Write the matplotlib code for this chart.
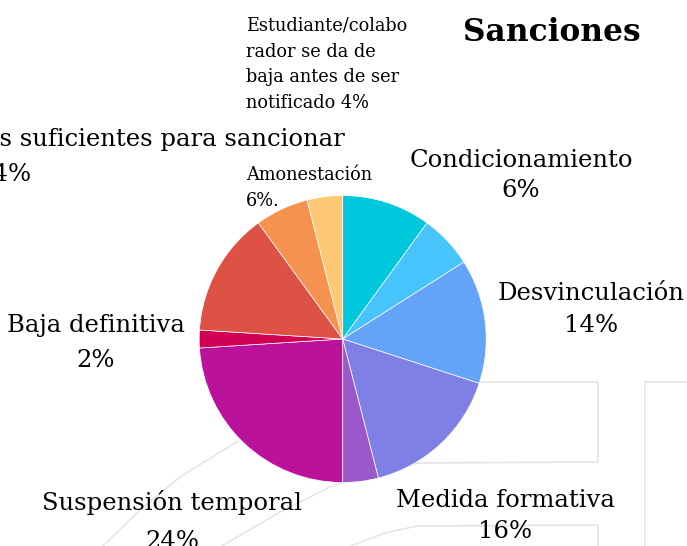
import matplotlib.pyplot as plt

# ======================================================= #
# Datos del gráfico (porcentajes)
categorias = ['', 'Condicionamiento', 'Desvinculación', 'Medida formativa', '',
              'Suspensión temporal', 'Baja definitiva',
              'No hay elementos suficientes para sancionar', 'Amonestación',
              'Estudiante/colaborador se da de baja antes de ser notificado']
porcentajes = [10, 6, 14, 16, 4, 24, 2, 14, 6, 4]
colores = ['#00C8DC', '#48C4FC', '#64A4F8', '#7F80E6', '#9B58CB',
           '#BB129C', '#D10055', '#DE5246', '#F69250', '#FEC977']
titulo = 'Sanciones'

# ======================================================= #
# Lienzo en coordenadas de pixel (687 x 546)
W, H = 687, 546
fig = plt.figure(figsize=(W / 100, H / 100), dpi=100)
ax = fig.add_axes([0, 0, 1, 1])


def py(y):
    # y medida desde arriba -> coordenada del eje
    return H - y


# marca de agua gris del fondo
trazos = [
    [(470, 382), (598, 382), (598, 462), (420, 463), (380, 470), (330, 487), (280, 512), (222, 546)],
    [(350, 546), (385, 533), (417, 526), (598, 525), (598, 546)],
    [(238, 441), (180, 477), (140, 510), (103, 546)],
    [(687, 382), (645, 382), (645, 546)],
]
for t in trazos:
    xs = [p[0] for p in t]
    ys = [py(p[1]) for p in t]
    ax.plot(xs, ys, color='#e3e3e3', linewidth=1.1, zorder=0)

# ======================================================= #
# Pastel
ax.pie(porcentajes, colors=colores, startangle=90, counterclock=False,
       center=(342.7, py(339)), radius=143.5,
       wedgeprops=dict(edgecolor='white', linewidth=0.5))
ax.set_xlim(0, W)
ax.set_ylim(0, H)
ax.axis('off')

# ======================================================= #
# Etiquetas


def etiqueta(x, y, lineas, ha, size, paso):
    for k, linea in enumerate(lineas):
        ax.text(x, py(y + k * paso), linea, ha=ha, va='baseline',
                fontsize=size, family='DejaVu Serif', color='black', zorder=5)


pct = [str(v) + '%' for v in porcentajes]
grande = 17.5
chica = 12.8

etiqueta(521, 167, [categorias[1], pct[1]], 'center', grande, 30)
etiqueta(591, 300, [categorias[2], pct[2]], 'center', grande, 32)
etiqueta(505, 507, [categorias[3], pct[3]], 'center', grande, 31)
etiqueta(172, 510, [categorias[5], pct[5]], 'center', grande, 38)
etiqueta(96, 332, [categorias[6], pct[6]], 'center', grande, 35)
# etiqueta larga cortada por el borde izquierdo
etiqueta(345, 146, [categorias[7]], 'right', grande, 0)
etiqueta(31, 181, [pct[7]], 'right', grande, 0)
etiqueta(246, 180, [categorias[8], pct[8] + '.'], 'left', chica, 26)
etiqueta(246, 31, ['Estudiante/colabo', 'rador se da de', 'baja antes de ser',
                   'notificado ' + pct[9]], 'left', chica, 25.7)

ax.text(552, py(41), titulo, ha='center', va='baseline', fontsize=22.5,
        fontweight='bold', family='DejaVu Serif', color='black')

plt.savefig('out.png', dpi=100)
